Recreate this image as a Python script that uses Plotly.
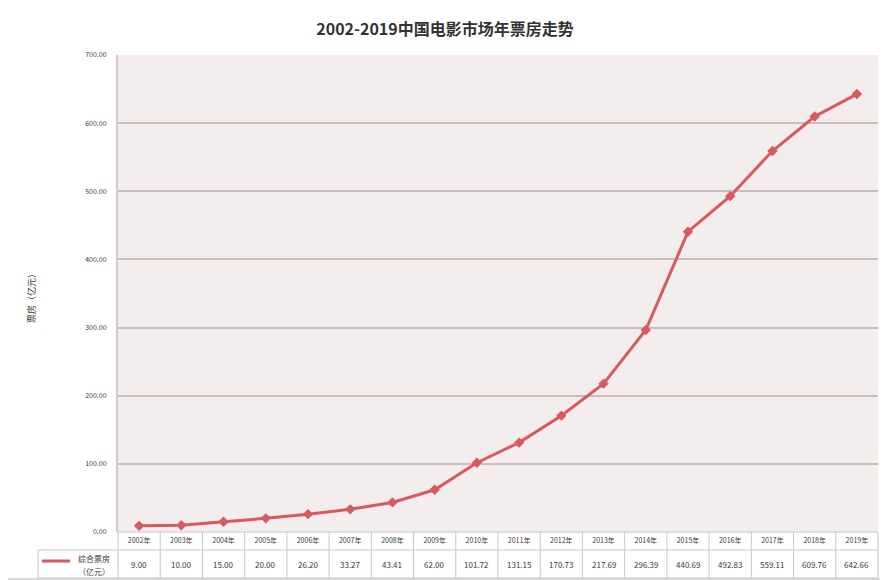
import plotly.graph_objects as go

years = ["2002年", "2003年", "2004年", "2005年", "2006年", "2007年", "2008年", "2009年", "2010年",
         "2011年", "2012年", "2013年", "2014年", "2015年", "2016年", "2017年", "2018年", "2019年"]
box_office = [9.00, 10.00, 15.00, 20.00, 26.20, 33.27, 43.41, 62.00, 101.72,
              131.15, 170.73, 217.69, 296.39, 440.69, 492.83, 559.11, 609.76, 642.66]
series_name = "综合票房（亿元）"
y_ticks = [0, 100, 200, 300, 400, 500, 600, 700]

OFF = 8  # page body margin
W, H = 888 - OFF, 580 - OFF
L, R, T, B = 118 - OFF, 878 - OFF, 55 - OFF, 532 - OFF
pw, ph = R - L, B - T

def px_x(p):
    return (p - OFF - L) / pw

def px_y(p):
    return (B - (p - OFF)) / ph

line_color = "#d65a5e"
grid_color = "#cdbcbc"
table_color = "#c8c8c8"
text_color = "#3a3a3a"
font = "Noto Sans CJK SC"

fig = go.Figure()
fig.add_trace(go.Scatter(
    x=years, y=box_office, mode="lines+markers", name=series_name,
    line=dict(color=line_color, width=3),
    marker=dict(symbol="diamond", size=8, color=line_color),
    showlegend=False,
))

shapes = []
annotations = []

# outer border
shapes.append(dict(type="rect", xref="paper", yref="paper",
                   x0=px_x(5), x1=px_x(884), y0=px_y(579), y1=px_y(6),
                   line=dict(color="#d0d0d0", width=1.5), layer="below"))

# table rows
row1_bot = px_y(550)
row2_bot = px_y(578)
hx_left = px_x(38)
shapes.append(dict(type="line", xref="paper", yref="paper", x0=hx_left, x1=1, y0=row1_bot, y1=row1_bot,
                   line=dict(color=table_color, width=1)))
shapes.append(dict(type="line", xref="paper", yref="paper", x0=hx_left, x1=1, y0=row2_bot, y1=row2_bot,
                   line=dict(color=table_color, width=1)))
shapes.append(dict(type="line", xref="paper", yref="paper", x0=hx_left, x1=hx_left, y0=row2_bot, y1=row1_bot,
                   line=dict(color=table_color, width=1)))
for i in range(len(years) + 1):
    xp = i / len(years)
    shapes.append(dict(type="line", xref="paper", yref="paper", x0=xp, x1=xp, y0=row2_bot, y1=0,
                       line=dict(color=table_color, width=1)))
shapes.append(dict(type="line", xref="paper", yref="paper", x0=0, x1=1, y0=0, y1=0,
                   line=dict(color=table_color, width=1)))

# value row text
for i, v in enumerate(box_office):
    annotations.append(dict(x=years[i], xref="x", y=(row1_bot + row2_bot) / 2, yref="paper",
                            xanchor="center", yanchor="middle",
                            text=f"{v:.2f}", showarrow=False,
                            font=dict(family=font, size=8, color=text_color)))

# legend key in table
shapes.append(dict(type="line", xref="paper", yref="paper", x0=px_x(42), x1=px_x(70),
                   y0=px_y(561), y1=px_y(561), line=dict(color=line_color, width=3)))
annotations.append(dict(x=px_x(94), xref="paper", y=px_y(558), yref="paper", text="综合票房",
                        xanchor="center", yanchor="middle",
                        showarrow=False, font=dict(family=font, size=8, color=text_color)))
annotations.append(dict(x=px_x(94), xref="paper", y=px_y(571), yref="paper", text="（亿元）",
                        xanchor="center", yanchor="middle",
                        showarrow=False, font=dict(family=font, size=8, color=text_color)))

# y-axis title
annotations.append(dict(x=px_x(31), xref="paper", y=px_y(296), yref="paper", text="票房（亿元）",
                        xanchor="center", yanchor="middle",
                        textangle=-90, showarrow=False,
                        font=dict(family=font, size=9, color=text_color)))

fig.update_layout(
    width=W, height=H,
    margin=dict(l=L, r=W - R, t=T, b=H - B),
    paper_bgcolor="white",
    plot_bgcolor="#f3eded",
    title=dict(text="<b>2002-2019中国电影市场年票房走势</b>", x=(445 - OFF) / W, xanchor="center",
               y=1 - (29 - OFF) / H, yanchor="middle",
               font=dict(family=font, size=16, color="#333333")),
    shapes=shapes,
    annotations=annotations,
    xaxis=dict(type="category", range=[-0.5, len(years) - 0.5],
               showgrid=False, color=text_color,
               tickfont=dict(family=font, size=7, color=text_color),
               ticks="", showline=False, zeroline=False, ticklabelstandoff=3),
    yaxis=dict(range=[0, 700], tickvals=y_ticks, ticktext=[f"{t:.2f}" for t in y_ticks],
               showgrid=True, gridcolor=grid_color, gridwidth=1.5, color=text_color,
               tickfont=dict(family=font, size=7, color=text_color),
               showline=True, linecolor="#d8c8c8", linewidth=2, zeroline=False, ticks="",
               ticklabelstandoff=8),
)

fig.write_html("out.html")
